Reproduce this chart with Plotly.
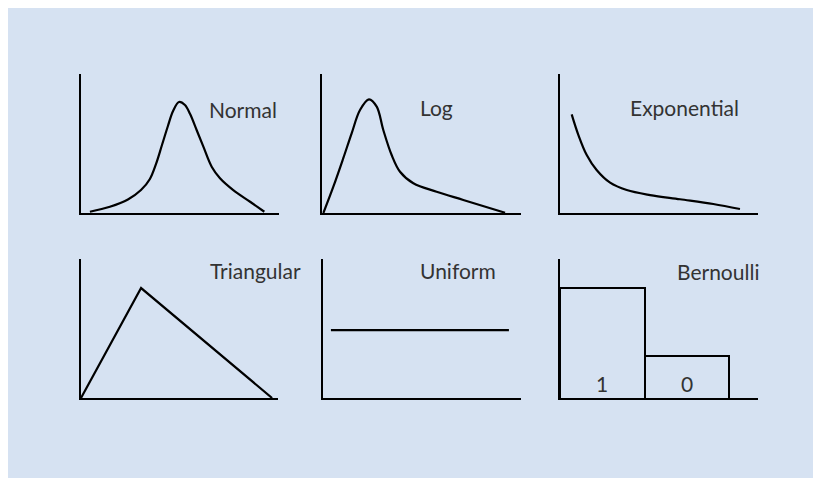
"""
Six small sketches of common probability distributions.
Each panel is drawn on its own 0-10 by 0-10 grid.
"""

import plotly.graph_objects as go

# The page body adds an 8px margin, so the figure is a bit smaller than the window
PAGE_MARGIN = 8
W, H = 821 - PAGE_MARGIN, 478 - PAGE_MARGIN

TITLES = ["Normal", "Log", "Exponential", "Triangular", "Uniform", "Bernoulli"]

# Curve points (panel units, 0-10 on both axes)
normal_x = [0.45, 1.46, 2.37, 3.03, 3.48, 3.79, 4.09, 4.39, 4.65, 4.95, 5.25, 5.51,
            5.84, 6.18, 6.60, 7.02, 7.69, 8.54, 9.26]
normal_y = [0.09, 0.45, 0.97, 1.65, 2.45, 3.53, 4.89, 6.26, 7.34, 7.99, 7.77, 7.12,
            5.97, 4.77, 3.33, 2.50, 1.65, 0.81, 0.09]

log_x = [0.07, 0.57, 1.07, 1.49, 1.91, 2.36, 2.75, 3.08, 3.50, 3.92, 4.59, 5.76, 7.10, 9.20]
log_y = [0.00, 1.89, 3.94, 5.73, 7.41, 8.18, 7.65, 5.97, 4.17, 2.97, 2.14, 1.53, 0.94, 0.02]

expo_x = [0.59, 0.93, 1.35, 1.85, 2.53, 3.37, 4.55, 6.06, 7.74, 9.09]
expo_y = [7.10, 5.61, 4.17, 3.09, 2.18, 1.65, 1.29, 0.99, 0.65, 0.29]

tri_x = [0.0, 3.05, 9.70]
tri_y = [0.0, 7.91, 0.0]

unif_x = [0.40, 9.39]
unif_y = [4.89, 4.89]

bern_cats = ["1", "0"]
bern_heights = [7.91, 3.09]

# Panel boxes in window pixels: (left, right, top, bottom)
PANELS = [
    (81, 279, 74, 213),
    (322, 521, 74, 213),
    (560, 758, 74, 213),
    (81, 278, 259, 398),
    (323, 521, 259, 398),
    (560, 758, 259, 398),
]

# Title centres in window pixels
TITLE_POS = [(243, 109), (437, 108), (684, 108), (256, 270), (458, 270), (718, 271)]

BG = "#d6e2f2"
INK = "#000000"
TEXT = "#333333"
FONT = "Lato"


def px(x):
    return (x - PAGE_MARGIN) / W


def py(y):
    return 1 - (y - PAGE_MARGIN) / H


fig = go.Figure()

curves = [
    (normal_x, normal_y, "spline"),
    (log_x, log_y, "spline"),
    (expo_x, expo_y, "spline"),
    (tri_x, tri_y, "linear"),
    (unif_x, unif_y, "linear"),
]

for i, (xs, ys, shape) in enumerate(curves):
    n = "" if i == 0 else str(i + 1)
    fig.add_trace(go.Scatter(
        x=xs, y=ys, mode="lines",
        line=dict(color=INK, width=2.2, shape=shape, smoothing=1.0),
        xaxis="x" + n, yaxis="y" + n,
        hoverinfo="skip", showlegend=False,
    ))

# Bernoulli: two outlined bars
fig.add_trace(go.Bar(
    x=bern_cats, y=bern_heights, width=1,
    marker=dict(color="rgba(0,0,0,0)", line=dict(color=INK, width=2)),
    xaxis="x6", yaxis="y6",
    hoverinfo="skip", showlegend=False,
))

axis_style = dict(
    showline=True, linecolor=INK, linewidth=2,
    showgrid=False, zeroline=False,
    showticklabels=False, ticks="", fixedrange=True,
)

layout = {}
for i, (l, r, t, b) in enumerate(PANELS):
    n = "" if i == 0 else str(i + 1)
    xaxis = dict(axis_style, domain=[px(l), px(r)], range=[0, 10], anchor="y" + n)
    yrange = [0, 10]
    if i == 5:
        xaxis.update(type="category", range=[-0.5, 1.843])
        # tuck the bar bottoms under the axis line so they don't double up
        yrange = [0.1, 10]
    layout["xaxis" + n] = xaxis
    layout["yaxis" + n] = dict(
        axis_style, domain=[py(b), py(t)], range=yrange,
        anchor="x" + n,
    )

annotations = []
for title, (cx, cy) in zip(TITLES, TITLE_POS):
    annotations.append(dict(
        text=title, x=px(cx), y=py(cy), xref="paper", yref="paper",
        xanchor="center", yanchor="middle", showarrow=False,
        font=dict(family=FONT, size=21, color=TEXT),
    ))

# Bar labels sit near the bottom of each bar (x is the category index)
for idx, cat in enumerate(bern_cats):
    annotations.append(dict(
        text=cat, x=idx, y=1.15, xref="x6", yref="y6",
        xanchor="center", yanchor="middle", showarrow=False,
        font=dict(family=FONT, size=21, color=TEXT),
    ))

fig.update_layout(
    **layout,
    annotations=annotations,
    width=W, height=H,
    margin=dict(l=0, r=0, t=0, b=0),
    paper_bgcolor=BG,
    plot_bgcolor="rgba(0,0,0,0)",
    bargap=0,
)

fig.write_html("out.html", config={"displayModeBar": False})
